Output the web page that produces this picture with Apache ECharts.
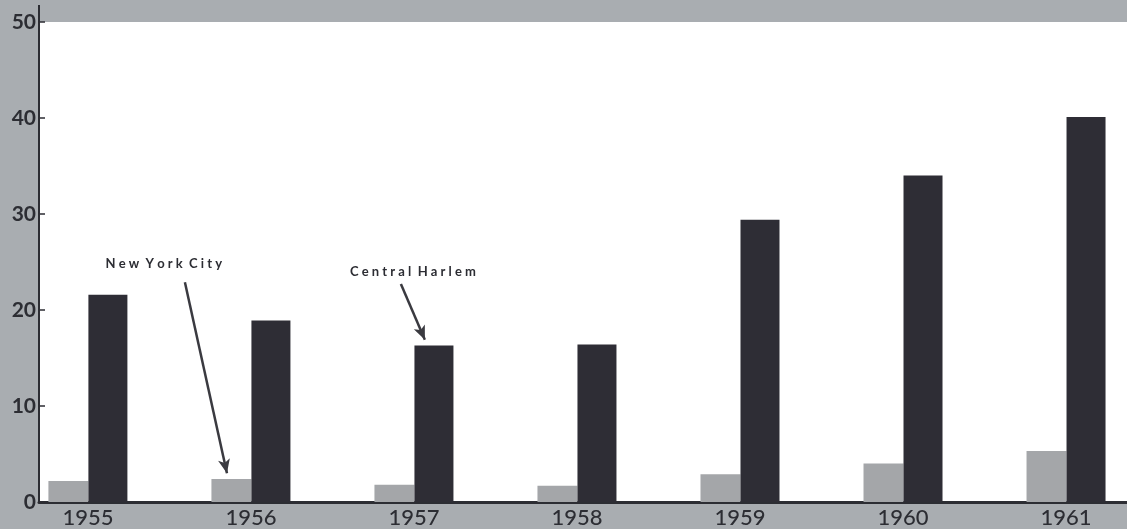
<!DOCTYPE html>
<html>
<head>
<meta charset="utf-8">
<script src="https://cdn.jsdelivr.net/npm/echarts@6/dist/echarts.min.js"></script>
<style>
  html, body { margin: 0; padding: 0; background: #a9adb1; }
  #chart { width: 1127px; height: 529px; }
</style>
</head>
<body>
<div id="chart"></div>
<script>
const years = [1955, 1956, 1957, 1958, 1959, 1960, 1961];
const newYorkCity = [2.2, 2.4, 1.8, 1.7, 2.9, 4.0, 5.3];
const centralHarlem = [21.6, 18.9, 16.3, 16.4, 29.4, 34.0, 40.1];
const yTicks = [0, 10, 20, 30, 40, 50];

const ink = "#2c2d33";
const chart = echarts.init(document.getElementById("chart"));

chart.setOption({
  animation: false,
  backgroundColor: "#a9adb1",
  textStyle: { fontFamily: "Lato, 'Noto Sans', sans-serif" },
  grid: {
    left: 39, right: 0, top: 22, bottom: 26,
    show: true, backgroundColor: "#ffffff", borderWidth: 0,
  },
  xAxis: {
    type: "value",
    min: 1954.7,
    max: 1961.374,
    splitLine: { show: false },
    axisTick: { show: false },
    axisLine: { show: true, onZero: false, lineStyle: { color: ink, width: 3 } },
    axisLabel: {
      customValues: years,
      formatter: (v) => String(v),
      color: ink,
      fontSize: 22,
      fontWeight: 500,
      margin: 5,
    },
  },
  yAxis: {
    type: "value",
    min: yTicks[0],
    max: yTicks[yTicks.length - 1],
    interval: 10,
    splitLine: { show: false },
    axisLine: { show: true, lineStyle: { color: ink, width: 2 } },
    axisTick: { show: true, inside: true, length: 6, lineStyle: { color: ink, width: 1.5 } },
    axisLabel: { color: ink, fontSize: 21, fontWeight: "bold", margin: 3 },
  },
  graphic: [
    {
      type: "line",
      shape: { x1: 39, y1: 5, x2: 39, y2: 23 },
      style: { stroke: ink, lineWidth: 2 },
    },
  ],
  series: [
    {
      name: "New York City",
      type: "bar",
      barWidth: 40,
      barGap: "0%",
      itemStyle: { color: "#a4a6a9" },
      data: years.map((y, i) => [y, newYorkCity[i]]),
    },
    {
      name: "Central Harlem",
      type: "bar",
      barWidth: 39,
      barGap: "0%",
      itemStyle: { color: "#2e2d35" },
      data: years.map((y, i) => [y, centralHarlem[i]]),
    },
    {
      // annotations only: arrows + labels, placed in data space
      name: "notes",
      type: "scatter",
      data: [],
      markLine: {
        silent: true,
        symbol: ["none", "arrow"],
        symbolSize: [9, 14],
        lineStyle: { color: "#3a3a40", width: 2.5, type: "solid" },
        label: { show: false },
        data: [
          [{ coord: [1955.595, 22.9] }, { coord: [1955.853, 3.0] }],
          [{ coord: [1956.92, 22.7] }, { coord: [1957.067, 16.9] }],
        ],
      },
      markPoint: {
        silent: true,
        symbolSize: 0,
        label: {
          show: true,
          formatter: "{b}",
          color: ink,
          fontSize: 13,
          fontWeight: "bold",
        },
        data: [
          { name: "N e w  Y o r k  C i t y", coord: [1955.466, 24.8] },
          { name: "C e n t r a l  H a r l e m", coord: [1956.994, 23.95] },
        ],
      },
    },
  ],
});
</script>
</body>
</html>
